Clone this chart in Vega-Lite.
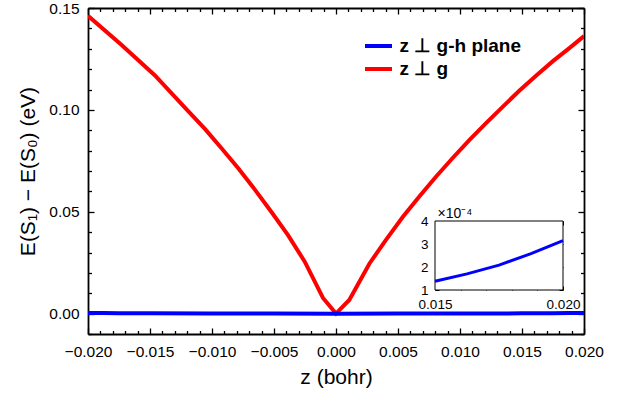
{
  "$schema": "https://vega.github.io/schema/vega-lite/v6.json",
  "width": 496,
  "height": 326,
  "autosize": {"type": "none"},
  "padding": {"left": 88, "top": 8, "right": 48, "bottom": 59},
  "background": "white",
  "config": {
    "view": {"stroke": null},
    "font": "Liberation Sans",
    "axis": {
      "grid": false,
      "labelFont": "Liberation Sans",
      "labelFontSize": 15.5,
      "labelColor": "black",
      "titleFont": "Liberation Sans",
      "titleFontSize": 21,
      "titleFontWeight": "normal",
      "titleColor": "black",
      "tickColor": "black",
      "tickWidth": 1.3,
      "domainColor": "black",
      "domainWidth": 1.8
    }
  },
  "datasets": {
    "curves": [
      {"series": "z ⊥ g", "z": -0.02, "E": 0.1462},
      {"series": "z ⊥ g", "z": -0.01731, "E": 0.1320},
      {"series": "z ⊥ g", "z": -0.01462, "E": 0.1170},
      {"series": "z ⊥ g", "z": -0.01194, "E": 0.0995},
      {"series": "z ⊥ g", "z": -0.01059, "E": 0.0908},
      {"series": "z ⊥ g", "z": -0.00925, "E": 0.0813},
      {"series": "z ⊥ g", "z": -0.0079, "E": 0.0715},
      {"series": "z ⊥ g", "z": -0.00656, "E": 0.0610},
      {"series": "z ⊥ g", "z": -0.00522, "E": 0.0500},
      {"series": "z ⊥ g", "z": -0.00387, "E": 0.0385},
      {"series": "z ⊥ g", "z": -0.00252, "E": 0.0255},
      {"series": "z ⊥ g", "z": -0.00105, "E": 0.0077},
      {"series": "z ⊥ g", "z": 0.0, "E": 0.0},
      {"series": "z ⊥ g", "z": 0.00107, "E": 0.0067},
      {"series": "z ⊥ g", "z": 0.00269, "E": 0.0245},
      {"series": "z ⊥ g", "z": 0.00403, "E": 0.0362},
      {"series": "z ⊥ g", "z": 0.00538, "E": 0.0474},
      {"series": "z ⊥ g", "z": 0.00672, "E": 0.0575},
      {"series": "z ⊥ g", "z": 0.00806, "E": 0.0672},
      {"series": "z ⊥ g", "z": 0.00941, "E": 0.0764},
      {"series": "z ⊥ g", "z": 0.01075, "E": 0.0852},
      {"series": "z ⊥ g", "z": 0.0121, "E": 0.0935},
      {"series": "z ⊥ g", "z": 0.01344, "E": 0.1015},
      {"series": "z ⊥ g", "z": 0.01478, "E": 0.1094},
      {"series": "z ⊥ g", "z": 0.01613, "E": 0.1168},
      {"series": "z ⊥ g", "z": 0.01747, "E": 0.1238},
      {"series": "z ⊥ g", "z": 0.01882, "E": 0.1303},
      {"series": "z ⊥ g", "z": 0.02, "E": 0.1362},
      {"series": "z ⊥ g-h plane", "z": -0.02, "E": 0.000315},
      {"series": "z ⊥ g-h plane", "z": -0.01875, "E": 0.000258},
      {"series": "z ⊥ g-h plane", "z": -0.0175, "E": 0.000208},
      {"series": "z ⊥ g-h plane", "z": -0.01625, "E": 0.00017},
      {"series": "z ⊥ g-h plane", "z": -0.015, "E": 0.000138},
      {"series": "z ⊥ g-h plane", "z": -0.01, "E": 0.00005},
      {"series": "z ⊥ g-h plane", "z": -0.005, "E": 0.00001},
      {"series": "z ⊥ g-h plane", "z": 0.0, "E": 0.0},
      {"series": "z ⊥ g-h plane", "z": 0.005, "E": 0.00001},
      {"series": "z ⊥ g-h plane", "z": 0.01, "E": 0.00005},
      {"series": "z ⊥ g-h plane", "z": 0.015, "E": 0.000138},
      {"series": "z ⊥ g-h plane", "z": 0.01625, "E": 0.00017},
      {"series": "z ⊥ g-h plane", "z": 0.0175, "E": 0.000208},
      {"series": "z ⊥ g-h plane", "z": 0.01875, "E": 0.000258},
      {"series": "z ⊥ g-h plane", "z": 0.02, "E": 0.000315}
    ],
    "frame": [{"x0": 0.015, "x1": 0.02, "y0": 0.0001, "y1": 0.0004}]
  },
  "layer": [
    {
      "layer": [
        {
          "data": {"name": "curves"},
          "mark": {"type": "line", "strokeWidth": 4, "clip": true},
          "encoding": {
            "x": {
              "field": "z", "type": "quantitative",
              "scale": {"domain": [-0.02, 0.02], "nice": false, "zero": false},
              "axis": {
                "orient": "bottom",
                "title": "z (bohr)",
                "titlePadding": 4,
                "values": [-0.02,-0.019,-0.018,-0.017,-0.016,-0.015,-0.014,-0.013,-0.012,-0.011,-0.01,-0.009,-0.008,-0.007,-0.006,-0.005,-0.004,-0.003,-0.002,-0.001,0,0.001,0.002,0.003,0.004,0.005,0.006,0.007,0.008,0.009,0.01,0.011,0.012,0.013,0.014,0.015,0.016,0.017,0.018,0.019,0.02],
                "labelExpr": "round(datum.value*1000) % 5 == 0 ? format(datum.value, '.3f') : ''",
                "tickSize": {"condition": {"test": "round(datum.value*1000) % 5 == 0", "value": -6}, "value": -3.5},
                "labelPadding": 16,
                "labelFlush": false,
                "labelOverlap": false
              }
            },
            "y": {
              "field": "E", "type": "quantitative",
              "scale": {"domain": [-0.01, 0.15], "nice": false, "zero": false},
              "axis": {
                "orient": "left",
                "title": "E(S₁) − E(S₀) (eV)",
                "titlePadding": 10,
                "values": [-0.01,0,0.01,0.02,0.03,0.04,0.05,0.06,0.07,0.08,0.09,0.1,0.11,0.12,0.13,0.14,0.15],
                "labelExpr": "round(datum.value*100) % 5 == 0 ? format(datum.value, '.2f') : ''",
                "tickSize": {"condition": {"test": "round(datum.value*100) % 5 == 0", "value": -6}, "value": -3.5},
                "labelPadding": 15,
                "labelFlush": false,
                "labelOverlap": false
              }
            },
            "color": {
              "field": "series", "type": "nominal",
              "scale": {"domain": ["z ⊥ g-h plane", "z ⊥ g"], "range": ["#0000ff", "#ff0000"]},
              "legend": {
                "orient": "none",
                "legendX": 279.5,
                "legendY": 27,
                "title": null,
                "padding": 0,
                "symbolType": "M-1.5,0H1.5",
                "symbolSize": 324,
                "symbolStrokeWidth": 4,
                "labelFont": "Liberation Sans",
                "labelFontSize": 19,
                "labelFontWeight": "bold",
                "labelColor": "black",
                "labelOffset": 10,
                "rowPadding": 2
              }
            }
          }
        },
        {
          "data": {"name": "curves"},
          "mark": {"type": "line", "opacity": 0},
          "encoding": {
            "x": {
              "field": "z", "type": "quantitative",
              "scale": {"domain": [-0.02, 0.02], "nice": false, "zero": false},
              "axis": {
                "orient": "top", "title": null, "labels": false,
                "values": [-0.02,-0.019,-0.018,-0.017,-0.016,-0.015,-0.014,-0.013,-0.012,-0.011,-0.01,-0.009,-0.008,-0.007,-0.006,-0.005,-0.004,-0.003,-0.002,-0.001,0,0.001,0.002,0.003,0.004,0.005,0.006,0.007,0.008,0.009,0.01,0.011,0.012,0.013,0.014,0.015,0.016,0.017,0.018,0.019,0.02],
                "tickSize": {"condition": {"test": "round(datum.value*1000) % 5 == 0", "value": -6}, "value": -3.5}
              }
            },
            "y": {
              "field": "E", "type": "quantitative",
              "scale": {"domain": [-0.01, 0.15], "nice": false, "zero": false},
              "axis": {
                "orient": "right", "title": null, "labels": false,
                "values": [-0.01,0,0.01,0.02,0.03,0.04,0.05,0.06,0.07,0.08,0.09,0.1,0.11,0.12,0.13,0.14,0.15],
                "tickSize": {"condition": {"test": "round(datum.value*100) % 5 == 0", "value": -6}, "value": -3.5}
              }
            }
          }
        }
      ],
      "resolve": {"axis": {"x": "independent", "y": "independent"}}
    },
    {
      "layer": [
        {
          "data": {"name": "frame"},
          "mark": {"type": "rect", "fill": "white", "stroke": "black", "strokeWidth": 1},
          "encoding": {
            "x": {
              "field": "x0", "type": "quantitative",
              "scale": {"domain": [0.015, 0.02], "range": [347, 475], "nice": false, "zero": false},
              "axis": {
                "orient": "top", "offset": -213, "title": null, "domain": false, "labels": false,
                "values": [0.015,0.016,0.017,0.018,0.019,0.02],
                "tickSize": -4, "tickWidth": 1
              }
            },
            "x2": {"field": "x1"},
            "y": {
              "field": "y0", "type": "quantitative",
              "scale": {"domain": [0.0001, 0.0004], "range": [282, 213], "nice": false, "zero": false},
              "axis": {
                "orient": "right", "offset": -21, "title": null, "domain": false, "labels": false,
                "values": [0.0001, 0.0002, 0.0003, 0.0004],
                "tickSize": -4, "tickWidth": 1
              }
            },
            "y2": {"field": "y1"}
          }
        },
        {
          "data": {"name": "curves"},
          "transform": [{"filter": "datum.series == 'z ⊥ g-h plane' && datum.z >= 0.015"}],
          "mark": {"type": "line", "strokeWidth": 3, "color": "#0000ff"},
          "encoding": {
            "x": {
              "field": "z", "type": "quantitative",
              "scale": {"domain": [0.015, 0.02], "range": [347, 475], "nice": false, "zero": false},
              "axis": {
                "orient": "bottom", "offset": -44, "title": null, "domain": false,
                "values": [0.015,0.016,0.017,0.018,0.019,0.02],
                "labelExpr": "round(datum.value*1000) % 5 == 0 ? format(datum.value, '.3f') : ''",
                "labelFontSize": 13.5,
                "tickSize": -4,
                "tickWidth": 1,
                "labelPadding": 11,
                "labelFlush": false,
                "labelOverlap": false
              }
            },
            "y": {
              "field": "E", "type": "quantitative",
              "scale": {"domain": [0.0001, 0.0004], "range": [282, 213], "nice": false, "zero": false},
              "axis": {
                "orient": "left", "offset": -347, "domain": false,
                "values": [0.0001, 0.0002, 0.0003, 0.0004],
                "labelExpr": "format(datum.value*10000, 'd')",
                "labelFontSize": 13.5,
                "tickSize": -4,
                "tickWidth": 1,
                "labelPadding": 11,
                "title": "×10⁻⁴",
                "titleAngle": 0,
                "titleFontSize": 14,
                "titleAlign": "left",
                "titleBaseline": "alphabetic",
                "titleX": 2,
                "titleY": 209
              }
            }
          }
        }
      ],
      "resolve": {"axis": {"x": "independent", "y": "independent"}}
    }
  ],
  "resolve": {"scale": {"x": "independent", "y": "independent"}, "axis": {"x": "independent", "y": "independent"}}
}
